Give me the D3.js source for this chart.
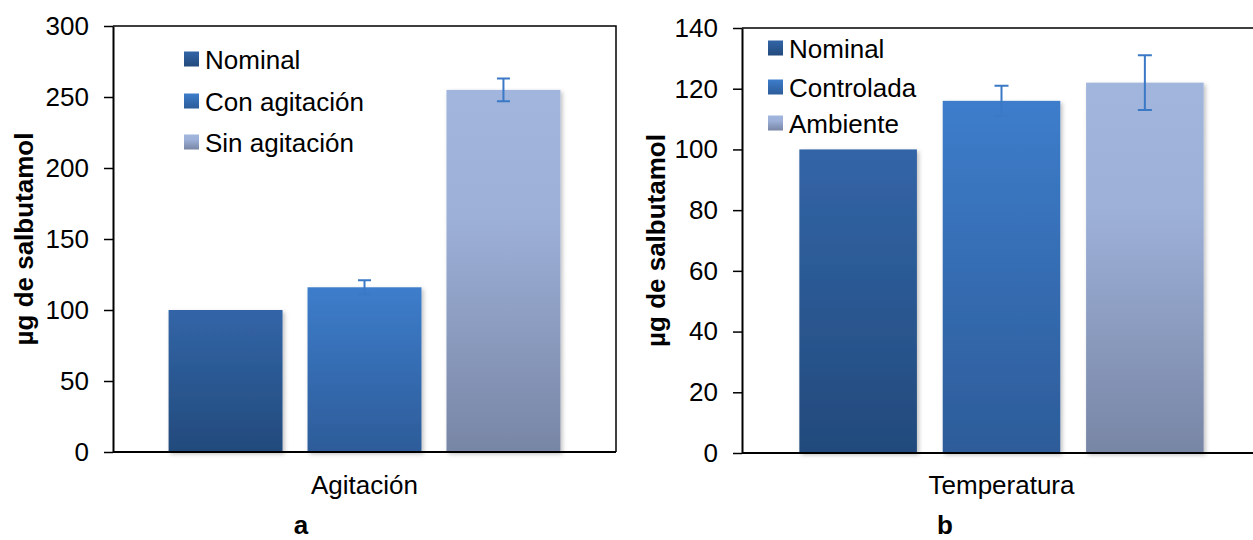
<!DOCTYPE html>
<html>
<head>
<meta charset="utf-8">
<script src="https://cdn.jsdelivr.net/npm/d3@7"></script>
<style>
  html, body { margin: 0; padding: 0; background: #ffffff; }
  svg { display: block; font-family: "Liberation Sans", Arial, sans-serif; }
</style>
</head>
<body>
<svg id="chart" width="1253" height="540"></svg>
<script>
// Panel a: effect of shaking
const seriesA = ["Nominal", "Con agitación", "Sin agitación"];
const valuesA = [100, 116, 255];
const errorsA = [0, 5, 8];
const ticksA = [0, 50, 100, 150, 200, 250, 300];

// Panel b: effect of temperature
const seriesB = ["Nominal", "Controlada", "Ambiente"];
const valuesB = [100, 116, 122];
const errorsB = [0, 5, 9];
const ticksB = [0, 20, 40, 60, 80, 100, 120, 140];

const yTitle = "µg de salbutamol";

const svg = d3.select("#chart");
const defs = svg.append("defs");

// vertical gradients for the three bar styles (dark, mid blue, light)
const gradStops = [
  [["0%", "#3265a7"], ["100%", "#234a7c"]],
  [["0%", "#3d7dcb"], ["100%", "#2d5c99"]],
  [["0%", "#a1b5dd"], ["35%", "#9db0d8"], ["100%", "#7886a5"]]
];
gradStops.forEach((stops, i) => {
  const g = defs.append("linearGradient")
    .attr("id", "grad" + i)
    .attr("x1", 0).attr("y1", 0).attr("x2", 0).attr("y2", 1);
  stops.forEach(([o, c]) => g.append("stop").attr("offset", o).attr("stop-color", c));
});

const shadow = defs.append("filter").attr("id", "shadow")
  .attr("x", "-10%").attr("y", "-10%").attr("width", "130%").attr("height", "120%");
shadow.append("feDropShadow")
  .attr("dx", 2).attr("dy", 2).attr("stdDeviation", 2)
  .attr("flood-color", "#000").attr("flood-opacity", 0.25);

const FONT = 26;

function panel(cfg) {
  const g = svg.append("g");
  const x = d3.scaleBand().domain(cfg.series)
    .range([cfg.left, cfg.right]).paddingInner(0.18).paddingOuter(0.4);
  const y = d3.scaleLinear().domain([0, cfg.max]).range([cfg.bottom, cfg.top]);

  // plot frame (top and right edges)
  g.append("path")
    .attr("d", `M${cfg.left},${cfg.top}H${cfg.right}V${cfg.bottom}`)
    .attr("fill", "none").attr("stroke", "#000").attr("stroke-width", 1.5);

  // bars
  g.selectAll("rect.bar").data(cfg.series).join("rect")
    .attr("class", "bar")
    .attr("x", d => x(d))
    .attr("width", x.bandwidth())
    .attr("y", (d, i) => y(cfg.values[i]))
    .attr("height", (d, i) => y(0) - y(cfg.values[i]))
    .attr("fill", (d, i) => `url(#grad${i})`)
    .attr("filter", "url(#shadow)");

  // error bars
  const cap = cfg.cap;
  cfg.series.forEach((d, i) => {
    if (!cfg.errors[i]) return;
    const cx = x(d) + x.bandwidth() / 2;
    const hi = y(cfg.values[i] + cfg.errors[i]);
    const lo = y(cfg.values[i] - cfg.errors[i]);
    g.append("path")
      .attr("d", `M${cx},${hi}V${lo}M${cx - cap},${hi}H${cx + cap}M${cx - cap},${lo}H${cx + cap}`)
      .attr("fill", "none").attr("stroke", "#3b78c6").attr("stroke-width", 2);
  });

  // y axis
  const ya = g.append("g").attr("transform", `translate(${cfg.left},0)`)
    .call(d3.axisLeft(y).tickValues(cfg.ticks).tickSize(9).tickPadding(15).tickSizeOuter(0));
  ya.select(".domain").attr("stroke", "#000").attr("stroke-width", 2);
  ya.selectAll(".tick line").attr("stroke", "#000").attr("stroke-width", 1.5);
  ya.selectAll(".tick text").attr("fill", "#000").style("font-size", FONT + "px")
    .style("font-family", "'Liberation Sans', Arial, sans-serif");

  // x axis baseline
  g.append("line")
    .attr("x1", cfg.left).attr("x2", cfg.right)
    .attr("y1", cfg.bottom).attr("y2", cfg.bottom)
    .attr("stroke", "#000").attr("stroke-width", 2);

  // category label
  g.append("text")
    .attr("x", (cfg.left + cfg.right) / 2).attr("y", cfg.catY)
    .attr("text-anchor", "middle").style("font-size", FONT + "px")
    .text(cfg.category);

  // y axis title
  g.append("text")
    .attr("transform", `translate(${cfg.titleX},${(cfg.top + cfg.bottom) / 2}) rotate(-90)`)
    .attr("text-anchor", "middle").style("font-size", "26px").style("font-weight", "bold")
    .text(yTitle);

  // panel letter
  g.append("text")
    .attr("x", cfg.letterX).attr("y", 534)
    .attr("text-anchor", "middle").style("font-size", "26px").style("font-weight", "bold")
    .text(cfg.letter);

  // legend
  const leg = g.append("g");
  cfg.series.forEach((d, i) => {
    const ly = cfg.legY[i];
    leg.append("rect")
      .attr("x", cfg.legX).attr("y", ly - 7.5).attr("width", 15).attr("height", 15)
      .attr("fill", `url(#grad${i})`);
    leg.append("text")
      .attr("x", cfg.legX + 21).attr("y", ly + 9.5)
      .style("font-size", FONT + "px").text(d);
  });
}

panel({
  series: seriesA, values: valuesA, errors: errorsA, ticks: ticksA, max: 300,
  left: 113, right: 616, top: 26, bottom: 452, cap: 6.5,
  category: "Agitación", catY: 494, titleX: 33, letter: "a", letterX: 301,
  legX: 184, legY: [59, 101, 142]
});

panel({
  series: seriesB, values: valuesB, errors: errorsB, ticks: ticksB, max: 140,
  left: 742, right: 1261, top: 28, bottom: 453, cap: 7,
  category: "Temperatura", catY: 494, titleX: 665, letter: "b", letterX: 945,
  legX: 768, legY: [48, 87, 123]
});
</script>
</body>
</html>
